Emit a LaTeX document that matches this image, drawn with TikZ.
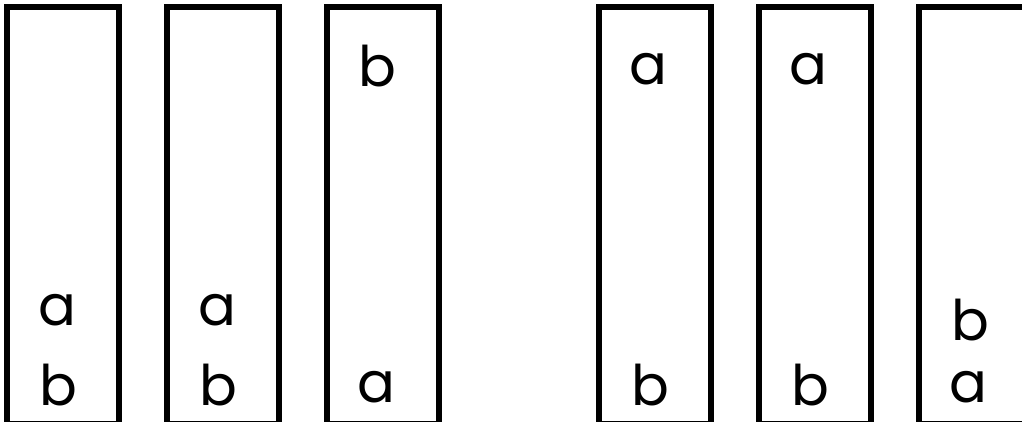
\documentclass[tikz,border=0pt]{standalone}
\usepackage{fontspec}
\setmainfont{Poppins}
\begin{document}
\begin{tikzpicture}[x=1pt,y=-1pt,
  tube/.style={draw=black,line width=6pt},
  lbl/.style={anchor=base,inner sep=0pt,font=\fontsize{56}{60}\selectfont}]
\useasboundingbox (0,0) rectangle (1022,422);
\clip (0,0) rectangle (1022,422);
\draw[tube] (7,7) rectangle (119,424);
\draw[tube] (167,7) rectangle (279,424);
\draw[tube] (327,7) rectangle (439,424);
\draw[tube] (599,7) rectangle (711,424);
\draw[tube] (759,7) rectangle (871,424);
\draw[tube] (919,7) rectangle (1031,424);
\node[lbl] (a1) at (57,325) {a};
\node[lbl] (b1) at (58,405) {b};
\node[lbl] (a2) at (217,325) {a};
\node[lbl] (b2) at (218,405) {b};
\node[lbl] (b3) at (377,87) {b};
\node[lbl] (a3) at (376,402) {a};
\node[lbl] (a4) at (648,85) {a};
\node[lbl] (b4) at (650,405) {b};
\node[lbl] (a5) at (808,85) {a};
\node[lbl] (b5) at (810,405) {b};
\node[lbl] (b6) at (970,340) {b};
\node[lbl] (a6) at (968,402) {a};
\end{tikzpicture}
\end{document}
